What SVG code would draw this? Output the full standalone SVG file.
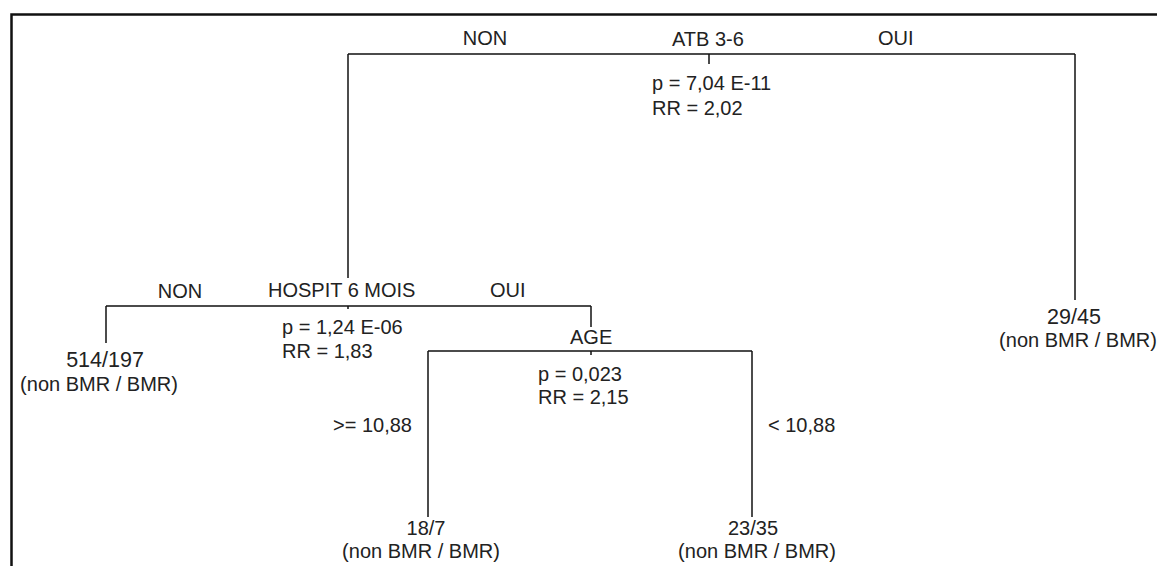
<svg xmlns="http://www.w3.org/2000/svg" width="1157" height="566" viewBox="0 0 1157 566">
<style>
text{font-family:"Liberation Sans",Arial,sans-serif;font-size:20px;fill:#222}
.big{font-size:21.5px}
.mid{text-anchor:middle}
.ln{stroke:#111;stroke-width:1.5;fill:none}
.frame{stroke:#111;stroke-width:2.5;fill:none}
</style>
<rect width="1157" height="566" fill="#fff"/>
<path class="frame" d="M11.5,566 V14.5 H1157"/>
<g id="connectors">
<path class="ln" d="M348,54 H1075 M709,54 V64"/>
<path class="ln" d="M348,54 V278"/>
<path class="ln" d="M1075,54 V300"/>
<path class="ln" d="M106,306 H591 M348,306 V309"/>
<path class="ln" d="M106,306 V343"/>
<path class="ln" d="M591,306 V327"/>
<path class="ln" d="M428,351 H752 M591,351 V355"/>
<path class="ln" d="M428,351 V517"/>
<path class="ln" d="M752,351 V517"/>
</g>
<g id="labels">
<text x="485" y="45" class="mid">NON</text>
<text x="878" y="45">OUI</text>
<text x="180" y="298" class="mid">NON</text>
<text x="490" y="297">OUI</text>
<text x="333" y="432">&gt;= 10,88</text>
<text x="768" y="432">&lt; 10,88</text>
</g>
<g id="node-atb">
<text x="672" y="46">ATB 3-6</text>
<text x="652" y="90">p = 7,04 E-11</text>
<text x="652" y="115">RR = 2,02</text>
</g>
<g id="node-hospit">
<text x="268" y="297">HOSPIT 6 MOIS</text>
<text x="282" y="334">p = 1,24 E-06</text>
<text x="282" y="358">RR = 1,83</text>
</g>
<g id="node-age">
<text x="570" y="344">AGE</text>
<text x="538" y="381">p = 0,023</text>
<text x="538" y="404">RR = 2,15</text>
</g>
<g id="leaf-514">
<text x="105" y="367" class="mid big">514/197</text>
<text x="99" y="391" class="mid">(non BMR / BMR)</text>
</g>
<g id="leaf-29">
<text x="1074" y="324" class="mid big">29/45</text>
<text x="1078" y="347" class="mid">(non BMR / BMR)</text>
</g>
<g id="leaf-18">
<text x="426" y="535" class="mid">18/7</text>
<text x="421" y="558" class="mid">(non BMR / BMR)</text>
</g>
<g id="leaf-23">
<text x="753" y="535" class="mid">23/35</text>
<text x="757" y="558" class="mid">(non BMR / BMR)</text>
</g>
</svg>
